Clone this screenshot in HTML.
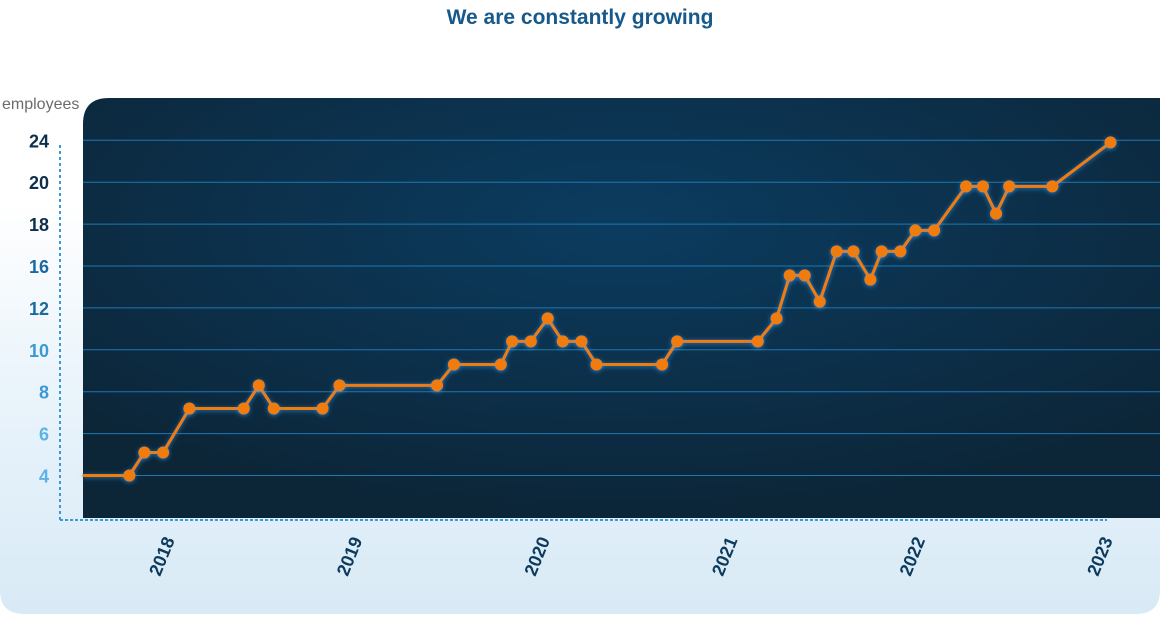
<!DOCTYPE html>
<html><head><meta charset="utf-8"><style>
body{margin:0;width:1160px;height:631px;overflow:hidden;background:#fff;font-family:"Liberation Sans",sans-serif;}
</style></head><body>
<svg width="1160" height="631" viewBox="0 0 1160 631">
<defs>
<linearGradient id="panel" x1="0" y1="0" x2="0" y2="1">
<stop offset="0" stop-color="#ffffff"/><stop offset="0.45" stop-color="#eaf4fb"/><stop offset="1" stop-color="#d8eaf6"/></linearGradient>
<radialGradient id="plotbg" cx="0.5" cy="0.3" r="0.7">
<stop offset="0" stop-color="#0b3c60"/><stop offset="1" stop-color="#0c2537"/></radialGradient>
<filter id="glow" x="-50%" y="-50%" width="200%" height="200%"><feDropShadow dx="0" dy="1" stdDeviation="2.5" flood-color="#39a8ff" flood-opacity="0.6"/></filter>
</defs>
<text x="580" y="24" text-anchor="middle" font-size="21" font-weight="bold" fill="#16598a">We are constantly growing</text>
<path d="M0 200 H1160 V590 Q1160 614 1136 614 H24 Q0 614 0 590 Z" fill="url(#panel)"/>
<path d="M83 518 V124 Q83 98 109 98 H1160 V518 Z" fill="url(#plotbg)"/>
<text x="2" y="109" font-size="16" fill="#6b6b6b">employees</text>
<line x1="60" y1="145" x2="60" y2="520" stroke="#3a9ad8" stroke-width="2" stroke-dasharray="3,3"/>
<line x1="60" y1="520" x2="1107" y2="520" stroke="#3a9ad8" stroke-width="2" stroke-dasharray="3,2"/>
<g id="grid"></g><g id="yticks"></g><g id="xticks"></g><g id="series"></g>
</svg>
<script>
const yTickLabels=[4,6,8,10,12,16,18,20,24];
const xYears=[2018,2019,2020,2021,2022,2023];
const dates=[2017.56,2017.81,2017.89,2017.99,2018.13,2018.42,2018.50,2018.58,2018.84,2018.93,2019.45,2019.54,2019.79,2019.85,2019.95,2020.04,2020.12,2020.22,2020.30,2020.65,2020.73,2021.16,2021.26,2021.33,2021.41,2021.49,2021.58,2021.67,2021.76,2021.82,2021.92,2022.00,2022.10,2022.27,2022.36,2022.43,2022.50,2022.73,2023.04];
const employees=[4,4,5.1,5.1,7.2,7.2,8.3,7.2,7.2,8.3,8.3,9.3,9.3,10.4,10.4,11.5,10.4,10.4,9.3,9.3,10.4,10.4,11.5,15.1,15.1,12.6,16.7,16.7,14.7,16.7,16.7,17.7,17.7,19.8,19.8,18.5,19.8,19.8,23.8];
const NS='http://www.w3.org/2000/svg';
function yScale(v){
  let i=0; while(i<yTickLabels.length-2 && v>yTickLabels[i+1]) i++;
  const idx=i+(v-yTickLabels[i])/(yTickLabels[i+1]-yTickLabels[i]);
  return 475.5-idx*41.9;
}
function xScale(t){return 165+(t-2018)*187.6;}
function mk(tag,attrs,parent){const e=document.createElementNS(NS,tag);for(const k in attrs)e.setAttribute(k,attrs[k]);parent.appendChild(e);return e;}
const grid=document.getElementById('grid'),yt=document.getElementById('yticks'),xt=document.getElementById('xticks'),ser=document.getElementById('series');
yTickLabels.forEach(v=>{
  const y=yScale(v);
  const l=mk('line',{x1:83,x2:1160,y1:y,y2:y,stroke:'#1b78b2','stroke-width':1},grid);
  
  
  const frac=(y-140)/335;
  const c=frac<0.35?'#0d2f4c':frac<0.6?'#1a6aa2':frac<0.8?'#3a98d6':'#5ab2e6';
  const t=mk('text',{x:49,y:y+7,'text-anchor':'end','font-size':18,'font-weight':'bold',fill:c},yt);
  
  
  t.textContent=v;
});
xYears.forEach(yr=>{
  const x=xScale(yr);
  const t=mk('text',{x:0,y:0,'text-anchor':'end','font-size':18,'font-weight':'bold',fill:'#0d3a5c',transform:`translate(${x+10},${540}) rotate(-68)`},xt);
  
  
  t.textContent=yr;
});
const pts=dates.map((d,i)=>[xScale(d),yScale(employees[i])]);
const line=mk('polyline',{points:pts.map(p=>p.join(',')).join(' '),fill:'none',stroke:'#f07b0a','stroke-width':3,'stroke-linejoin':'round',filter:'url(#glow)'},ser);


pts.forEach((p,i)=>{
  if(i===0)return;
  const c=mk('circle',{cx:p[0],cy:p[1],r:6,fill:'#f07b0a',filter:'url(#glow)'},ser);
  
  
});
</script>
</body></html>
